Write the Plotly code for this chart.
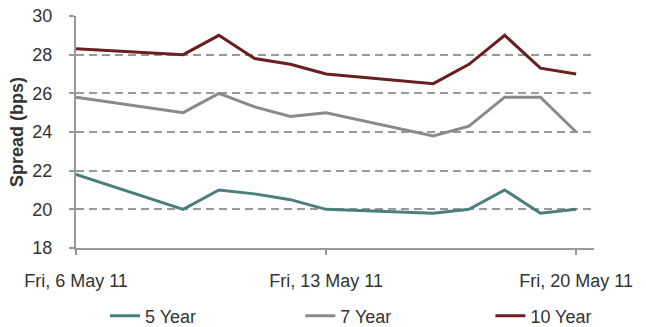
import plotly.graph_objects as go

dates = ["2011-05-06", "2011-05-09", "2011-05-10", "2011-05-11", "2011-05-12", "2011-05-13",
         "2011-05-16", "2011-05-17", "2011-05-18", "2011-05-19", "2011-05-20"]
y5 = [21.8, 20.0, 21.0, 20.8, 20.5, 20.0, 19.8, 20.0, 21.0, 19.8, 20.0]
y7 = [25.8, 25.0, 26.0, 25.3, 24.8, 25.0, 23.8, 24.3, 25.8, 25.8, 24.0]
y10 = [28.3, 28.0, 29.0, 27.8, 27.5, 27.0, 26.5, 27.5, 29.0, 27.3, 27.0]
series_names = ["5 Year", "7 Year", "10 Year"]
colors = ["#4A7F7D", "#8A8A8A", "#6B1E1E"]
tick_dates = ["2011-05-06", "2011-05-13", "2011-05-20"]
tick_labels = ["Fri, 6 May 11", "Fri, 13 May 11", "Fri, 20 May 11"]
yticks = [18, 20, 22, 24, 26, 28, 30]

legend_ids = ["legend", "legend2", "legend3"]
legend_x = [0.056, 0.433, 0.80]

fig = go.Figure()
for name, ys, c, lg in zip(series_names, [y5, y7, y10], colors, legend_ids):
    fig.add_trace(go.Scatter(x=dates, y=ys, name=name, mode="lines",
                             line=dict(color=c, width=3), legend=lg))

font = dict(family="Liberation Sans, Arial", size=18, color="#333333")
legend_common = dict(orientation="h", y=-0.293, yanchor="middle", xanchor="left",
                     font=font, bgcolor="rgba(0,0,0,0)", itemwidth=30)

fig.update_layout(
    width=646, height=327,
    margin=dict(l=76, r=52, t=16, b=79, autoexpand=False),
    plot_bgcolor="white", paper_bgcolor="white",
    font=font,
    showlegend=True,
    legend=dict(x=legend_x[0], **legend_common),
    legend2=dict(x=legend_x[1], **legend_common),
    legend3=dict(x=legend_x[2], **legend_common),
    xaxis=dict(type="date", range=["2011-05-06", "2011-05-20 12:00"],
               tickvals=tick_dates, ticktext=tick_labels, automargin=False,
               showgrid=False, showline=True, linecolor="#999999", linewidth=2,
               ticks="outside", ticklen=5, tickcolor="#999999", tickwidth=2,
               ticklabelstandoff=10, zeroline=False, tickfont=font),
    yaxis=dict(range=[18, 30], tickvals=yticks, showgrid=True, gridcolor="#999999",
               griddash="8px,5px", gridwidth=2, showline=True, linecolor="#999999",
               linewidth=2, ticks="outside", ticklen=5, tickcolor="#999999", tickwidth=2,
               ticklabelstandoff=13, zeroline=False, tickfont=font, automargin=False,
               title=dict(text="<b>Spread (bps)</b>", font=dict(size=18), standoff=4)),
)
fig.write_html("out.html")
